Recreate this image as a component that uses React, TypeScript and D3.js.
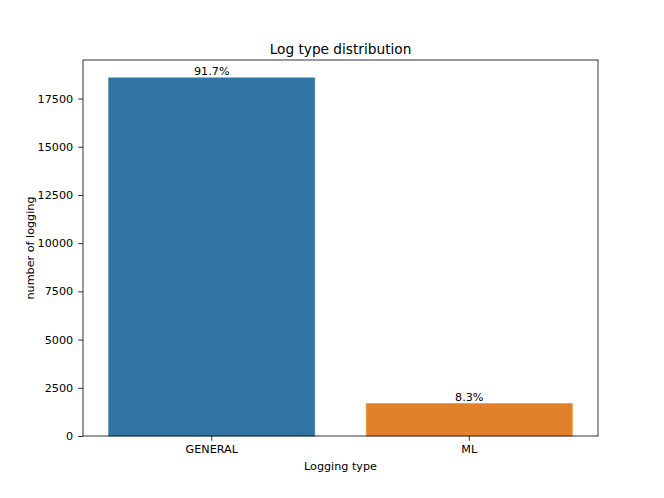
import React, { useEffect, useRef } from "react";
import * as d3 from "d3";

const categories = ["GENERAL", "ML"];
const counts = [18570, 1680];
const barColors = ["#3274a1", "#e1812c"];
const yTicks = [0, 2500, 5000, 7500, 10000, 12500, 15000, 17500];

const App = () => {
  const svgRef = useRef<SVGSVGElement>(null);

  useEffect(() => {
    const width = 664;
    const height = 498;
    const margin = { top: 60, right: 66, bottom: 62, left: 83 };
    const innerW = width - margin.left - margin.right;
    const innerH = height - margin.top - margin.bottom;
    const font = "DejaVu Sans, sans-serif";
    const fs = "11.2px";

    let svg = d3.select(svgRef.current);
    svg.selectAll("*").remove();
    svg.attr("width", width).attr("height", height);

    svg.append("rect").attr("width", width).attr("height", height).attr("fill", "#fff");

    const g = svg.append("g").attr("transform", `translate(${margin.left},${margin.top})`);

    const x = d3.scaleBand().domain(categories).range([0, innerW]).paddingInner(0.2).paddingOuter(0.1);
    const ymax = d3.max(counts) * 1.05;
    const y = d3.scaleLinear().domain([0, ymax]).range([innerH, 0]);

    const total = d3.sum(counts);
    const data = categories.map((c, i) => ({ key: c, value: counts[i], color: barColors[i] }));

    g.selectAll(".bar")
      .data(data)
      .enter()
      .append("rect")
      .attr("class", "bar")
      .attr("x", (d) => x(d.key))
      .attr("y", (d) => y(d.value))
      .attr("width", x.bandwidth())
      .attr("height", (d) => innerH - y(d.value))
      .attr("fill", (d) => d.color)
      .attr("stroke", (d) => d3.color(d.color).brighter(0.3).toString())
      .attr("stroke-width", 0.8);

    g.selectAll(".bar-label")
      .data(data)
      .enter()
      .append("text")
      .attr("class", "bar-label")
      .attr("x", (d) => x(d.key) + x.bandwidth() / 2)
      .attr("y", (d) => y(d.value) - 2.5)
      .attr("text-anchor", "middle")
      .style("font-family", font)
      .style("font-size", fs)
      .text((d) => ((d.value / total) * 100).toFixed(1) + "%");

    // y axis
    const yAxis = g
      .append("g")
      .call(d3.axisLeft(y).tickValues(yTicks).tickSize(4.8).tickPadding(5).tickFormat(d3.format("d")));
    yAxis.select(".domain").remove();
    yAxis.selectAll("text").style("font-family", font).style("font-size", fs).attr("fill", "#000");
    yAxis.selectAll("line").attr("stroke", "#000").attr("stroke-width", 0.8);

    // x axis
    const xAxis = g
      .append("g")
      .attr("transform", `translate(0,${innerH})`)
      .call(d3.axisBottom(x).tickSize(4.8).tickPadding(4.5));
    xAxis.select(".domain").remove();
    xAxis.selectAll("text").style("font-family", font).style("font-size", fs).attr("fill", "#000");
    xAxis.selectAll("line").attr("stroke", "#000").attr("stroke-width", 0.8);

    // frame
    g.append("rect")
      .attr("width", innerW)
      .attr("height", innerH)
      .attr("fill", "none")
      .attr("stroke", "#000")
      .attr("stroke-width", 0.8);

    svg.append("text")
      .attr("x", margin.left + innerW / 2)
      .attr("y", margin.top - 6.5)
      .attr("text-anchor", "middle")
      .style("font-family", font)
      .style("font-size", "13.7px")
      .text("Log type distribution");

    svg.append("text")
      .attr("x", margin.left + innerW / 2)
      .attr("y", margin.top + innerH + 33.5)
      .attr("text-anchor", "middle")
      .style("font-family", font)
      .style("font-size", fs)
      .text("Logging type");

    svg.append("text")
      .attr("transform", `translate(33.5,${margin.top + innerH / 2}) rotate(-90)`)
      .attr("text-anchor", "middle")
      .style("font-family", font)
      .style("font-size", fs)
      .text("number of logging");
  }, []);

  return (
    <div style={{ margin: -8 }}>
      <svg ref={svgRef} style={{ display: "block" }}></svg>
    </div>
  );
};

export default App;
